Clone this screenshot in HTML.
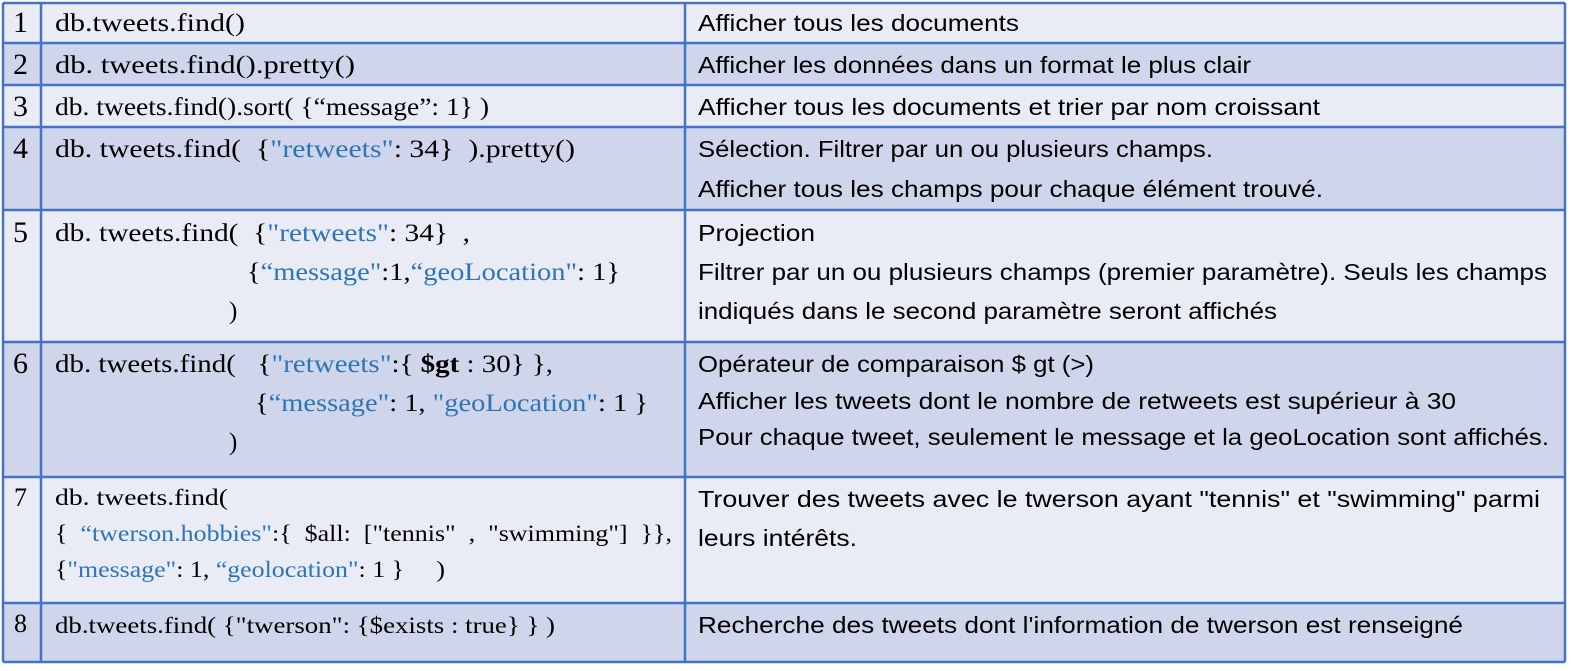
<!DOCTYPE html>
<html><head><meta charset="utf-8"><style>
html,body{margin:0;padding:0;background:#fff;width:1579px;height:671px;overflow:hidden}
svg{display:block}
.b{fill:#2e75b6}
</style></head><body>
<svg width="1579" height="671" xmlns="http://www.w3.org/2000/svg">
<rect x="3" y="3" width="1562" height="40" fill="#e9ebf5"/>
<rect x="3" y="43" width="1562" height="42" fill="#cfd5ea"/>
<rect x="3" y="85" width="1562" height="42" fill="#e9ebf5"/>
<rect x="3" y="127" width="1562" height="83" fill="#cfd5ea"/>
<rect x="3" y="210" width="1562" height="132" fill="#e9ebf5"/>
<rect x="3" y="342" width="1562" height="135" fill="#cfd5ea"/>
<rect x="3" y="477" width="1562" height="126" fill="#e9ebf5"/>
<rect x="3" y="603" width="1562" height="59" fill="#cfd5ea"/>
<g stroke="#4472c4" stroke-width="2.5">
<line x1="3" y1="3" x2="1565" y2="3"/><line x1="3" y1="43" x2="1565" y2="43"/><line x1="3" y1="85" x2="1565" y2="85"/><line x1="3" y1="127" x2="1565" y2="127"/><line x1="3" y1="210" x2="1565" y2="210"/><line x1="3" y1="342" x2="1565" y2="342"/><line x1="3" y1="477" x2="1565" y2="477"/><line x1="3" y1="603" x2="1565" y2="603"/><line x1="3" y1="662" x2="1565" y2="662"/>
<line x1="3" y1="3" x2="3" y2="662"/><line x1="41" y1="3" x2="41" y2="662"/><line x1="685" y1="3" x2="685" y2="662"/><line x1="1565" y1="3" x2="1565" y2="662"/>
</g>
<g font-family="Liberation Serif, serif" fill="#000">
<text x="13" y="32" font-size="30">1</text><text x="13" y="74" font-size="30">2</text><text x="13" y="116" font-size="30">3</text><text x="13" y="158" font-size="30">4</text><text x="13" y="242" font-size="30">5</text><text x="13" y="373" font-size="30">6</text>
<text x="14" y="506" font-size="26">7</text><text x="14" y="632" font-size="26">8</text>
</g>
<g font-family="Liberation Serif, serif" font-size="25" fill="#000">
<text x="55" y="31" textLength="190" lengthAdjust="spacingAndGlyphs">db.tweets.find()</text>
<text x="55" y="73" textLength="300" lengthAdjust="spacingAndGlyphs">db. tweets.find().pretty()</text>
<text x="55" y="115" textLength="434" lengthAdjust="spacingAndGlyphs">db. tweets.find().sort( {“message”: 1} )</text>
<text x="55" y="157" textLength="520" lengthAdjust="spacingAndGlyphs" xml:space="preserve">db. tweets.find(  {<tspan class="b">"retweets"</tspan>: 34}  ).pretty()</text>
<text x="55" y="241" textLength="415" lengthAdjust="spacingAndGlyphs" xml:space="preserve">db. tweets.find(  {<tspan class="b">"retweets"</tspan>: 34}  ,</text>
<text x="247" y="280" textLength="373" lengthAdjust="spacingAndGlyphs">{<tspan class="b">“message"</tspan>:1,<tspan class="b">“geoLocation"</tspan>: 1}</text>
<text x="229" y="319">)</text>
<text x="55" y="372" textLength="498" lengthAdjust="spacingAndGlyphs" xml:space="preserve">db. tweets.find(   {<tspan class="b">"retweets"</tspan>:{ <tspan font-weight="bold">$gt</tspan> : 30} },</text>
<text x="255" y="411" textLength="393" lengthAdjust="spacingAndGlyphs">{<tspan class="b">“message"</tspan>: 1, <tspan class="b">"geoLocation"</tspan>: 1 }</text>
<text x="229" y="450">)</text>
</g>
<g font-family="Liberation Serif, serif" font-size="23" fill="#000">
<text x="55" y="505" textLength="173" lengthAdjust="spacingAndGlyphs">db. tweets.find(</text>
<text x="55" y="541" textLength="617" lengthAdjust="spacingAndGlyphs" xml:space="preserve">{  <tspan class="b">“twerson.hobbies"</tspan>:{  $all:  ["tennis"  ,  "swimming"]  }},</text>
<text x="55" y="577" textLength="390" lengthAdjust="spacingAndGlyphs" xml:space="preserve">{<tspan class="b">"message"</tspan>: 1, <tspan class="b">“geolocation"</tspan>: 1 }     )</text>
<text x="55" y="633" textLength="500" lengthAdjust="spacingAndGlyphs">db.tweets.find( {"twerson": {$exists : true} } )</text>
</g>
<g font-family="Liberation Sans, sans-serif" font-size="23" fill="#000">
<text x="698" y="31" textLength="321" lengthAdjust="spacingAndGlyphs">Afficher tous les documents</text>
<text x="698" y="73" textLength="553" lengthAdjust="spacingAndGlyphs">Afficher les données dans un format le plus clair</text>
<text x="698" y="115" textLength="622" lengthAdjust="spacingAndGlyphs">Afficher tous les documents et trier par nom croissant</text>
<text x="698" y="157" textLength="515" lengthAdjust="spacingAndGlyphs">Sélection. Filtrer par un ou plusieurs champs.</text>
<text x="698" y="197" textLength="625" lengthAdjust="spacingAndGlyphs">Afficher tous les champs pour chaque élément trouvé.</text>
<text x="698" y="241" textLength="117" lengthAdjust="spacingAndGlyphs">Projection</text>
<text x="698" y="280" textLength="849" lengthAdjust="spacingAndGlyphs">Filtrer par un ou plusieurs champs (premier paramètre). Seuls les champs</text>
<text x="698" y="319" textLength="579" lengthAdjust="spacingAndGlyphs">indiqués dans le second paramètre seront affichés</text>
<text x="698" y="372" textLength="396" lengthAdjust="spacingAndGlyphs">Opérateur de comparaison $ gt (&gt;)</text>
<text x="698" y="409" textLength="758" lengthAdjust="spacingAndGlyphs">Afficher les tweets dont le nombre de retweets est supérieur à 30</text>
<text x="698" y="445" textLength="851" lengthAdjust="spacingAndGlyphs">Pour chaque tweet, seulement le message et la geoLocation sont affichés.</text>
<text x="698" y="507" textLength="842" lengthAdjust="spacingAndGlyphs">Trouver des tweets avec le twerson ayant "tennis" et "swimming" parmi</text>
<text x="698" y="546" textLength="159" lengthAdjust="spacingAndGlyphs">leurs intérêts.</text>
<text x="698" y="633" textLength="765" lengthAdjust="spacingAndGlyphs">Recherche des tweets dont l'information de twerson est renseigné</text>
</g>
</svg>
</body></html>
